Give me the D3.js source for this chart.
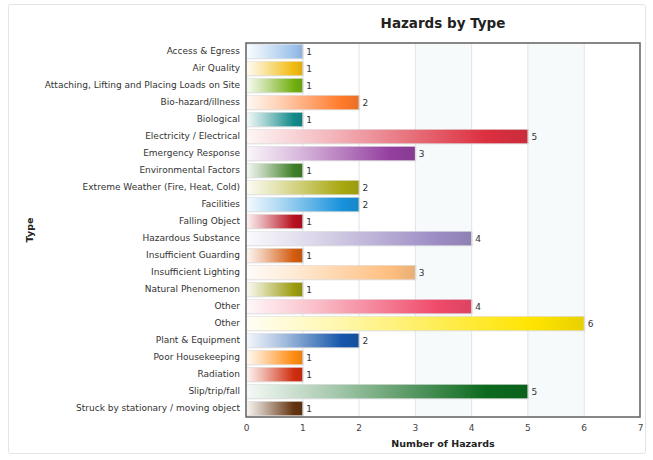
<!DOCTYPE html>
<html>
<head>
<meta charset="utf-8">
<script src="https://cdn.jsdelivr.net/npm/d3@7"></script>
<style>
  html, body { margin: 0; padding: 0; background: #fff; }
  svg { display: block; font-family: Tahoma, "DejaVu Sans", "Liberation Sans", sans-serif; }
</style>
</head>
<body>
<svg id="chart" width="653" height="460"></svg>
<script>
// Hazard categories, counts and bar colours
const categories = [
  "Access & Egress", "Air Quality", "Attaching, Lifting and Placing Loads on Site",
  "Bio-hazard/illness", "Biological", "Electricity / Electrical", "Emergency Response",
  "Environmental Factors", "Extreme Weather (Fire, Heat, Cold)", "Facilities",
  "Falling Object", "Hazardous Substance", "Insufficient Guarding", "Insufficient Lighting",
  "Natural Phenomenon", "Other", "Other", "Plant & Equipment", "Poor Housekeeping",
  "Radiation", "Slip/trip/fall", "Struck by stationary / moving object"
];
const counts = [1, 1, 1, 2, 1, 5, 3, 1, 2, 2, 1, 4, 1, 3, 1, 4, 6, 2, 1, 1, 5, 1];
const colors = [
  "#9cc2ec", "#f2bb10", "#72b010", "#ff7a2a", "#138a8a", "#dc3040", "#9440a0",
  "#3f7f28", "#a8a810", "#1892dc", "#b8101e", "#9c8cc4", "#d45c10", "#ffbf80",
  "#9c9c10", "#f04a6a", "#ffe400", "#1656aa", "#ff8c10", "#d02e10", "#0c6a1e", "#643410"
];
const xTicks = [0, 1, 2, 3, 4, 5, 6, 7];

const svg = d3.select("#chart");
const plot = { left: 246, right: 640, top: 43, bottom: 417 };

// outer frame
svg.append("rect").attr("x", 8.5).attr("y", 4.5).attr("width", 637).attr("height", 449)
  .attr("fill", "#fff").attr("stroke", "#e4e4e4").attr("rx", 2);

const x = d3.scaleLinear().domain([0, 7]).range([plot.left, plot.right]);
const rowKeys = categories.map((c, i) => i);
const y = d3.scaleBand().domain(rowKeys).range([plot.top, plot.bottom]).paddingInner(0.2).paddingOuter(0.1);
const yRow = d3.scaleBand().domain(rowKeys).range([plot.top, plot.bottom]);

const defs = svg.append("defs");
colors.forEach((c, i) => {
  const g = defs.append("linearGradient").attr("id", "g" + i)
    .attr("x1", "0%").attr("x2", "100%").attr("y1", "0%").attr("y2", "0%");
  const base = d3.color(c);
  g.append("stop").attr("offset", "0%").attr("stop-color", d3.interpolateRgb("#ffffff", c)(0.04));
  g.append("stop").attr("offset", "30%").attr("stop-color", d3.interpolateRgb("#ffffff", c)(0.35));
  g.append("stop").attr("offset", "85%").attr("stop-color", c);
  g.append("stop").attr("offset", "100%").attr("stop-color", base.darker(0.25).formatHex());
});

// faint alternating bands
[[3, 4], [5, 6]].forEach(([a, b]) => {
  svg.append("rect").attr("x", x(a)).attr("y", plot.top).attr("width", x(b) - x(a))
    .attr("height", plot.bottom - plot.top).attr("fill", "#f7fafb");
});

// vertical gridlines
svg.append("g").selectAll("line").data(xTicks.slice(1, -1)).join("line")
  .attr("x1", d => x(d) + 0.5).attr("x2", d => x(d) + 0.5)
  .attr("y1", plot.top).attr("y2", plot.bottom)
  .attr("stroke", "#dfe4e7").attr("stroke-width", 1);

// bars
const bars = svg.append("g");
bars.selectAll("rect.shadow").data(counts).join("rect").attr("class", "shadow")
  .attr("x", x(0)).attr("y", (d, i) => y(i) - 0.5)
  .attr("width", d => x(d) - x(0) + 1.5).attr("height", y.bandwidth() + 1.5)
  .attr("fill", "#d6d6d6").attr("opacity", 0.8);
bars.selectAll("rect.bar").data(counts).join("rect").attr("class", "bar")
  .attr("x", x(0)).attr("y", (d, i) => y(i))
  .attr("width", d => x(d) - x(0)).attr("height", y.bandwidth())
  .attr("fill", (d, i) => `url(#g${i})`);

// value labels
svg.append("g").selectAll("text").data(counts).join("text")
  .attr("x", d => x(d) + 4).attr("y", (d, i) => yRow(i) + yRow.bandwidth() / 2)
  .attr("dy", "0.35em").attr("font-size", 9).attr("fill", "#333")
  .text(d => d);

// plot border
svg.append("rect").attr("x", plot.left).attr("y", plot.top)
  .attr("width", plot.right - plot.left).attr("height", plot.bottom - plot.top)
  .attr("fill", "none").attr("stroke", "#6a6a6a").attr("stroke-width", 1.6);

// category axis
const yAxis = d3.axisLeft(yRow).tickSize(0).tickPadding(6).tickFormat(i => categories[i]);
const gy = svg.append("g").attr("transform", `translate(${plot.left},0)`).call(yAxis);
gy.select(".domain").remove();
gy.selectAll("text").attr("font-size", 9).attr("fill", "#333")
  .attr("font-family", "Tahoma, 'DejaVu Sans', 'Liberation Sans', sans-serif");

// value axis
const xAxis = d3.axisBottom(x).tickValues(xTicks).tickFormat(d3.format("d")).tickSize(0).tickPadding(8);
const gx = svg.append("g").attr("transform", `translate(0,${plot.bottom})`).call(xAxis);
gx.select(".domain").remove();
gx.selectAll("text").attr("font-size", 9).attr("fill", "#444")
  .attr("font-family", "Tahoma, 'DejaVu Sans', 'Liberation Sans', sans-serif");

// titles
svg.append("text").attr("x", 443).attr("y", 28).attr("text-anchor", "middle")
  .attr("font-size", 13.5).attr("font-weight", "bold").attr("fill", "#222")
  .text("Hazards by Type");
svg.append("text").attr("x", 443).attr("y", 447).attr("text-anchor", "middle")
  .attr("font-size", 9.5).attr("font-weight", "bold").attr("fill", "#222")
  .text("Number of Hazards");
svg.append("text").attr("transform", "translate(33,230) rotate(-90)").attr("text-anchor", "middle")
  .attr("font-size", 9.5).attr("font-weight", "bold").attr("fill", "#222")
  .text("Type");
</script>
</body>
</html>
